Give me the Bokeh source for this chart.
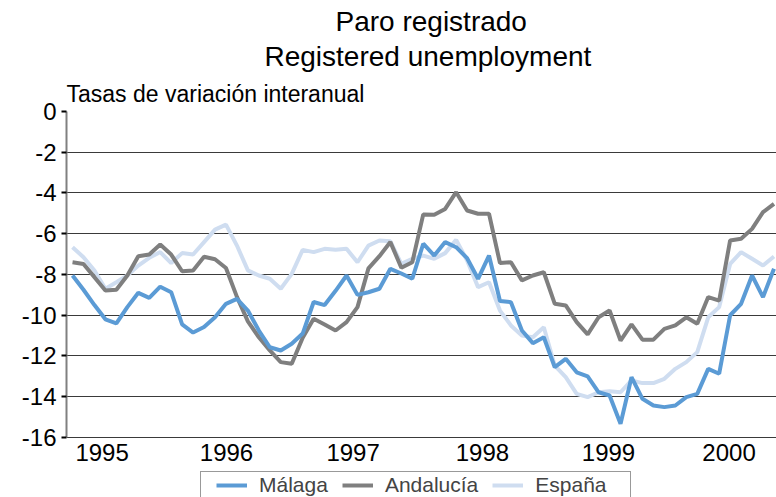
from bokeh.plotting import figure
from bokeh.models import Range1d, FixedTicker, Title, Legend, LegendItem
from bokeh.embed import file_html
from bokeh.resources import INLINE

# Monthly index: 0 = Jan 1995 ... 64 = May 2000
months = list(range(65))

malaga = [-8.05, -8.75, -9.5, -10.2, -10.4, -9.6, -8.9, -9.15, -8.6, -8.87,
          -10.45, -10.85, -10.58, -10.1, -9.44, -9.2, -9.77, -10.75, -11.57, -11.73,
          -11.4, -10.9, -9.35, -9.5, -8.8, -8.05, -9.0, -8.87, -8.7, -7.72,
          -7.95, -8.21, -6.49, -7.07, -6.41, -6.66, -7.2, -8.21, -7.07, -9.3,
          -9.36, -10.75, -11.37, -11.08, -12.55, -12.14, -12.8, -13.0, -13.78, -13.94,
          -15.33, -13.04, -14.1, -14.43, -14.51, -14.43, -14.02, -13.86, -12.63, -12.87,
          -10.0, -9.44, -8.05, -9.11, -7.72]

andalucia = [-7.4, -7.48, -8.13, -8.79, -8.75, -8.05, -7.1, -7.02, -6.53, -7.02,
             -7.84, -7.8, -7.13, -7.25, -7.68, -9.1, -10.3, -11.08, -11.73, -12.3,
             -12.38, -11.1, -10.17, -10.45, -10.75, -10.34, -9.6, -7.7, -7.1, -6.41,
             -7.67, -7.4, -5.05, -5.07, -4.78, -3.96, -4.86, -5.02, -5.02, -7.44,
             -7.4, -8.29, -8.05, -7.89, -9.44, -9.52, -10.34, -10.94, -10.1, -9.77,
             -11.24, -10.45, -11.2, -11.2, -10.67, -10.5, -10.1, -10.42, -9.11, -9.28,
             -6.33, -6.25, -5.76, -4.94, -4.53]

espana = [-6.66, -7.15, -7.8, -8.7, -8.38, -8.05, -7.56, -7.18, -6.9, -7.44,
          -6.95, -7.02, -6.41, -5.8, -5.55, -6.58, -7.8, -8.05, -8.21, -8.7,
          -7.97, -6.79, -6.9, -6.74, -6.79, -6.74, -7.4, -6.58, -6.33, -6.37,
          -7.48, -7.23, -7.07, -7.23, -6.95, -6.3, -7.31, -8.62, -8.38, -9.77,
          -10.5, -11.0, -11.08, -10.59, -12.47, -13.04, -13.86, -14.02, -13.78, -13.73,
          -13.78, -13.2, -13.33, -13.33, -13.12, -12.63, -12.3, -11.81, -10.1, -9.6,
          -7.48, -6.9, -7.23, -7.56, -7.12]

year_ticks = [2.7, 14.05, 25.6, 37.4, 48.9, 59.9]
year_labels = ["1995", "1996", "1997", "1998", "1999", "2000"]
y_ticks = [0, -2, -4, -6, -8, -10, -12, -14, -16]
y_labels = ["0", "-2", "-4", "-6", "-8", "-10", "-12", "-14", "-16"]

FONT = "Liberation Sans"

p = figure(width=776, height=497, output_backend="svg", toolbar_location=None,
           title_location=None,
           x_range=Range1d(-0.55, 64.23), y_range=Range1d(-18.945, 0),
           min_border_left=66, min_border_right=0, min_border_bottom=0, min_border_top=111)
p.outline_line_color = None
p.background_fill_color = "white"
p.border_fill_color = "white"

r_es = p.line(months, espana, line_color="#CFDDF0", line_width=4)
r_an = p.line(months, andalucia, line_color="#7F7F7F", line_width=4)
r_ma = p.line(months, malaga, line_color="#5B9BD5", line_width=4)

# x axis sits on the -16 line
p.xaxis.fixed_location = -16
p.xaxis.ticker = FixedTicker(ticks=year_ticks)
p.xaxis.major_label_overrides = {t: l for t, l in zip(year_ticks, year_labels)}
p.xaxis.axis_line_color = None
p.xaxis.major_tick_line_color = None
p.xaxis.minor_tick_line_color = None
p.xaxis.major_label_text_font = FONT
p.xaxis.major_label_text_font_size = "24px"
p.xaxis.major_label_text_color = "black"
p.xaxis.major_label_standoff = 1

p.yaxis.ticker = FixedTicker(ticks=y_ticks)
p.yaxis.major_label_overrides = {t: l for t, l in zip(y_ticks, y_labels)}
p.yaxis.bounds = (-16, 0)
p.yaxis.axis_line_color = "#808080"
p.yaxis.axis_line_width = 2
p.yaxis.major_tick_line_color = "black"
p.yaxis.major_tick_line_width = 2
p.yaxis.major_tick_out = 5
p.yaxis.major_tick_in = 0
p.yaxis.minor_tick_line_color = None
p.yaxis.major_label_text_font = FONT
p.yaxis.major_label_text_font_size = "24px"
p.yaxis.major_label_text_color = "black"
p.yaxis.major_label_standoff = 5

p.xgrid.grid_line_color = None
p.ygrid.ticker = FixedTicker(ticks=y_ticks)
p.ygrid.grid_line_color = "#3a3a3a"
p.ygrid.grid_line_width = 1

# titles (first added sits nearest the plot)
p.add_layout(Title(text="Tasas de variación interanual", align="left", offset=0,
                   text_font=FONT, text_font_size="23px", text_font_style="normal",
                   text_color="black", standoff=10), "above")
p.add_layout(Title(text="Registered unemployment", align="left", offset=198,
                   text_font=FONT, text_font_size="28px", text_font_style="normal",
                   text_color="black", standoff=4), "above")
p.add_layout(Title(text="Paro registrado", align="left", offset=269,
                   text_font=FONT, text_font_size="28px", text_font_style="normal",
                   text_color="black", standoff=0), "above")

# legend frame (box only)
dummy = p.line([0, 1], [-30, -30], line_alpha=0)
box = Legend(items=[LegendItem(label=" ", renderers=[dummy])],
             location=(134, -50), orientation="horizontal",
             padding=0, margin=0, spacing=0, label_standoff=0,
             glyph_width=429, glyph_height=74, label_width=0, label_height=74,
             label_text_font_size="1px",
             border_line_color="#333333", border_line_width=1,
             background_fill_color="white", background_fill_alpha=1)
p.add_layout(box, "center")

leg = Legend(items=[LegendItem(label="Málaga", renderers=[r_ma]),
                    LegendItem(label="Andalucía", renderers=[r_an]),
                    LegendItem(label="España", renderers=[r_es])],
             location=(150, 0.5), orientation="horizontal",
             padding=4, margin=0, spacing=14, label_standoff=12,
             glyph_width=31, glyph_height=20, label_height=20,
             label_text_font=FONT, label_text_font_size="21px",
             border_line_color=None, background_fill_alpha=0)
p.add_layout(leg, "center")

open("out.html", "w").write(file_html(p, INLINE))
